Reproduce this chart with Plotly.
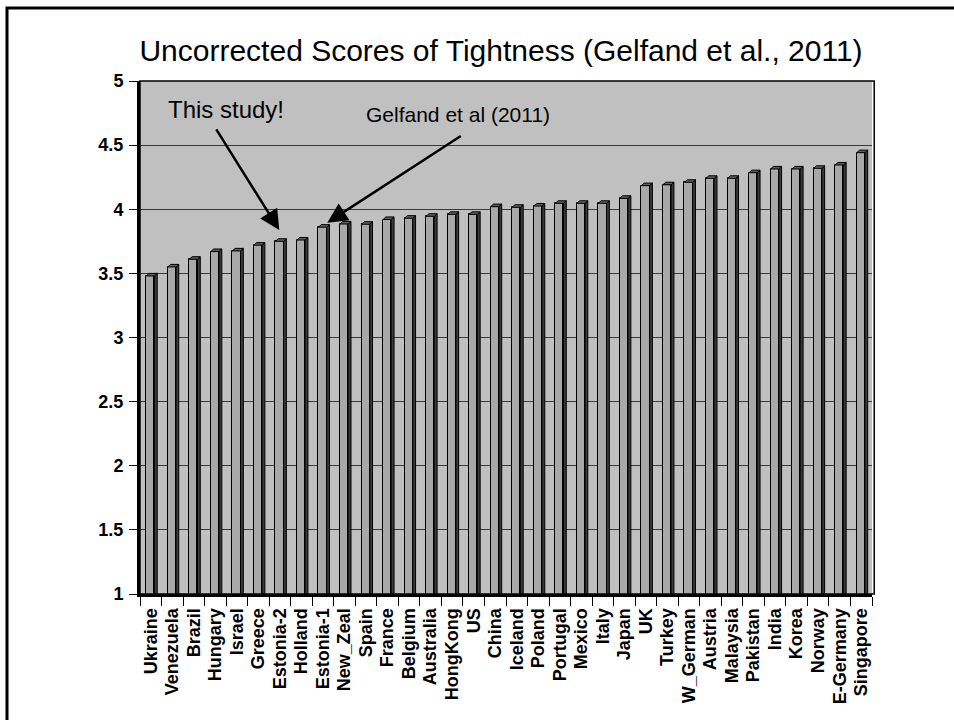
import plotly.graph_objects as go

countries = ["Ukraine", "Venezuela", "Brazil", "Hungary", "Israel", "Greece", "Estonia-2",
             "Holland", "Estonia-1", "New_Zeal", "Spain", "France", "Belgium", "Australia",
             "HongKong", "US", "China", "Iceland", "Poland", "Portugal", "Mexico", "Italy",
             "Japan", "UK", "Turkey", "W_German", "Austria", "Malaysia", "Pakistan", "India",
             "Korea", "Norway", "E-Germany", "Singapore"]
scores = [3.48, 3.55, 3.61, 3.67, 3.675, 3.72, 3.75, 3.76, 3.86, 3.885, 3.883, 3.92, 3.93,
          3.945, 3.96, 3.96, 4.02, 4.015, 4.025, 4.046, 4.046, 4.046, 4.085, 4.184, 4.191,
          4.21, 4.241, 4.241, 4.285, 4.314, 4.314, 4.319, 4.345, 4.441]
y_ticks = [1, 1.5, 2, 2.5, 3, 3.5, 4, 4.5, 5]
title_text = "Uncorrected Scores of Tightness (Gelfand et al., 2011)"

FRONT = "#a8a8a8"
SIDE = "#3a3a3a"
TOP = "#5e5e5e"
# 3D block geometry (data units)
a_off, b_off = -0.21, 0.17   # front face left/right offset from category centre
dx, dy = 0.13, 0.02          # depth of the pseudo-3D block
floor = 0.9

xs = list(range(len(countries)))

side_x, side_y, top_x, top_y = [], [], [], []
for i, v in zip(xs, scores):
    b = i + b_off
    a = i + a_off
    side_x += [b, b + dx, b + dx, b, b, None]
    side_y += [floor, floor + dy, v + dy, v, floor, None]
    top_x += [a, a + dx, b + dx, b, a, None]
    top_y += [v, v + dy, v + dy, v, v, None]

fig = go.Figure()
fig.add_trace(go.Bar(
    x=xs, y=scores, width=b_off - a_off, offset=a_off,
    marker=dict(color=FRONT, line=dict(color="black", width=1)),
    hoverinfo="x+y", showlegend=False))
fig.add_trace(go.Scatter(
    x=side_x, y=side_y, mode="lines", fill="toself", fillcolor=SIDE,
    line=dict(color="black", width=1), hoverinfo="skip", showlegend=False))
fig.add_trace(go.Scatter(
    x=top_x, y=top_y, mode="lines", fill="toself", fillcolor=TOP,
    line=dict(color="black", width=1), hoverinfo="skip", showlegend=False))

tick_font = dict(family="Liberation Sans, Arial, sans-serif", size=18, color="black",
                 weight="bold")
note_family = "Liberation Sans, Arial, sans-serif"

fig.update_layout(
    width=954, height=720,
    margin=dict(l=140, r=82, t=81, b=126, pad=0),
    paper_bgcolor="white", plot_bgcolor="#c0c0c0",
    bargap=0,
    title=dict(text=title_text, x=501 / 954, y=1 - 50 / 720,
               xref="container", yref="container", xanchor="center", yanchor="middle",
               font=dict(family=note_family, size=30, color="black")),
    xaxis=dict(range=[-0.5, len(countries) - 0.5], tickmode="array", tickvals=xs,
               ticktext=countries, tickangle=-90, ticks="", showgrid=False,
               zeroline=False, showline=True, linecolor="black", linewidth=3,
               tickfont=tick_font, ticklabelstandoff=4,
               minor=dict(tickmode="array", tickvals=[i - 0.5 for i in range(len(countries) + 1)],
                          ticks="outside", ticklen=9, tickcolor="black", tickwidth=1,
                          showgrid=False),
               fixedrange=True),
    yaxis=dict(range=[1, 5], tickmode="array", tickvals=y_ticks,
               ticktext=[f"{t:g}" for t in y_ticks],
               ticks="outside", ticklen=8, tickcolor="black", tickwidth=1,
               showgrid=True, gridcolor="#3a3a3a", gridwidth=1, zeroline=False,
               showline=True, linecolor="black", linewidth=3,
               tickfont=tick_font, ticklabelstandoff=2,
               fixedrange=True),
    shapes=[
        dict(type="rect", xref="paper", yref="paper", x0=0, x1=1.003, y0=0, y1=1,
             line=dict(color="black", width=1.5), layer="above"),
        dict(type="rect", xref="paper", yref="paper", x0=(7 - 140) / 732, x1=1.3,
             y0=-0.5, y1=(594 - 8) / 513, line=dict(color="black", width=3),
             layer="above"),
    ],
    annotations=[
        dict(x=5.97, y=3.838, ax=3.0, ay=4.634, xref="x", yref="y", axref="x", ayref="y",
             showarrow=True, arrowhead=2, arrowsize=1.6, arrowwidth=2.5,
             arrowcolor="black", text=""),
        dict(x=8.2, y=3.895, ax=14.47, ay=4.579, xref="x", yref="y", axref="x", ayref="y",
             showarrow=True, arrowhead=2, arrowsize=1.6, arrowwidth=2.5,
             arrowcolor="black", text=""),
        dict(x=3.51, y=4.78, xref="x", yref="y", showarrow=False, text="This study!",
             font=dict(family=note_family, size=24, color="black")),
        dict(x=14.28, y=4.735, xref="x", yref="y", showarrow=False,
             text="Gelfand et al (2011)",
             font=dict(family=note_family, size=21, color="black")),
    ],
)

fig.write_html("out.html", config={"displayModeBar": False},
               post_script="document.body.style.margin='0';")
